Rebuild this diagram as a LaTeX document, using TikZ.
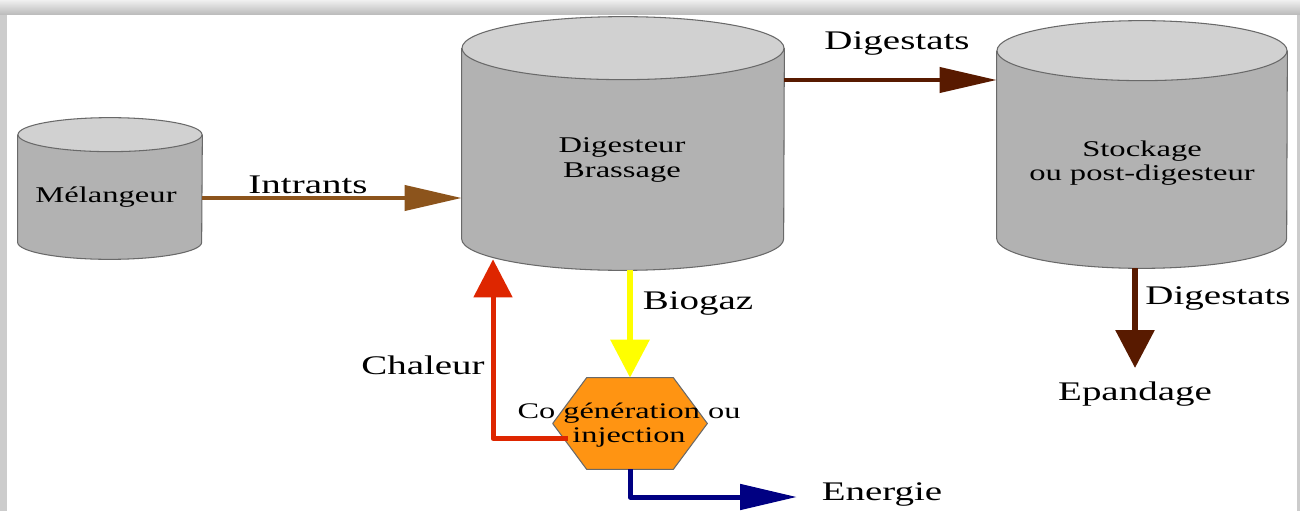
\documentclass[tikz,border=0pt]{standalone}
\usepackage{fontspec}
\setmainfont{Liberation Serif}
\newfontfamily\wideserif[FakeStretch=1.45]{Liberation Serif}
\usetikzlibrary{arrows.meta,positioning,calc}

\definecolor{tankside}{RGB}{178,178,178}
\definecolor{tanktop}{RGB}{209,209,209}
\definecolor{tankedge}{RGB}{105,105,105}
\definecolor{intrantbrown}{RGB}{140,84,28}
\definecolor{digestbrown}{RGB}{88,26,0}
\definecolor{biogasyellow}{RGB}{255,255,0}
\definecolor{heatred}{RGB}{222,38,0}
\definecolor{powerblue}{RGB}{0,0,130}
\definecolor{chporange}{RGB}{255,148,18}

\begin{document}
\begin{tikzpicture}[x=0.02cm, y=0.02cm, line join=round,
  tankbody/.style={inner sep=0pt, draw=none},
  tanklbl/.style={font=\wideserif\fontsize{12.8}{13.8}\selectfont, align=center},
  flowlbl/.style={font=\wideserif\fontsize{15.3}{17}\selectfont},
  hflow/.style={line width=0.08cm, -{Triangle[length=1.14cm, width=0.5cm]}},
  vflow/.style={line width=0.12cm, -{Triangle[length=0.76cm, width=0.76cm]}}]
\useasboundingbox (0,0) rectangle (1300,511);
% page frame with shadow
\fill[gray!40] (0,0) rectangle (1300,511);
\shade[top color=gray!12, bottom color=gray!55] (0,496) rectangle (1300,511);
\fill[white] (7,0) rectangle (1297,496);

% tanks: name/centre x/top y/bottom y/x radius/y radius
\foreach \nm/\cx/\yt/\yb/\rx/\ry in {mix/110/376/269/92/17, dig/623/462.5/272.5/161/31.5, store/1142/460/273/145/30} {
  \node[tankbody, minimum width=2*\rx*0.02cm, minimum height=(\yt-\yb)*0.02cm] (\nm) at (\cx,{(\yt+\yb)/2}) {};
  \fill[tankside] (\nm.north west) -- (\nm.south west) arc[start angle=180, end angle=360, x radius=\rx*0.02cm, y radius=\ry*0.02cm] -- (\nm.north east) -- cycle;
  \draw[tankedge, line width=0.6pt] (\nm.north west) -- (\nm.south west) arc[start angle=180, end angle=360, x radius=\rx*0.02cm, y radius=\ry*0.02cm] -- (\nm.north east);
  \filldraw[draw=tankedge, fill=tanktop, line width=0.6pt] (\nm.north) ellipse[x radius=\rx*0.02cm, y radius=\ry*0.02cm];
}
\node[tanklbl] (mixtxt) at (106,314) {Mélangeur};
\node[tanklbl] (digtxt) at (622,351) {Digesteur\\Brassage};
\node[tanklbl] (storetxt) at (1142,348) {Stockage\\ou post-digesteur};

% cogeneration hexagon
\node[tankbody, minimum width=3.08cm, minimum height=1.82cm] (chp) at (630,87.5) {};
\filldraw[draw=tankedge, fill=chporange, line width=0.6pt] (chp.west) -- ($(chp.north west)+(34,0)$) -- ($(chp.north east)+(-34,0)$) -- (chp.east) -- ($(chp.south east)+(-34,0)$) -- ($(chp.south west)+(34,0)$) -- cycle;

% flows
\coordinate (spread) at (1135,143);
\coordinate (power) at (797,14);
\draw[hflow, intrantbrown] ($(mix.east)+(0,-9.5)$) -- ($(dig.west)+(0,-54.5)$);
\draw[hflow, digestbrown] ($(dig.east)+(0,63.5)$) -- ($(store.west)+(0,64.5)$);
\draw[vflow, biogasyellow] ($(dig.south)+(7,-31.5)$) -- (chp.north);
\draw[vflow, heatred, line width=0.1cm] ($(chp.west)+(15,-15)$) -| ($(dig.south)+(-130,-20.5)$);
\draw[hflow, powerblue, line width=0.1cm] (chp.south) |- (power);
\draw[vflow, digestbrown] ($(store.south)+(-7,-30)$) -- (spread);

\node[flowlbl] (intrlbl) at (308,326) {Intrants};
\node[flowlbl] (dig1lbl) at (897,467) {Digestats};
\node[flowlbl] (gaslbl) at (698,208) {Biogaz};
\node[flowlbl] (heatlbl) at (423,146) {Chaleur};
\node[flowlbl] (dig2lbl) at (1218,213) {Digestats};
\node[flowlbl] (spreadlbl) at (1135,117) {Epandage};
\node[flowlbl] (powerlbl) at (882,17) {Energie};
\node[tanklbl, font=\wideserif\fontsize{12.7}{13.5}\selectfont] (chptxt) at (629,86) {Co génération ou\\injection};
\end{tikzpicture}
\end{document}
